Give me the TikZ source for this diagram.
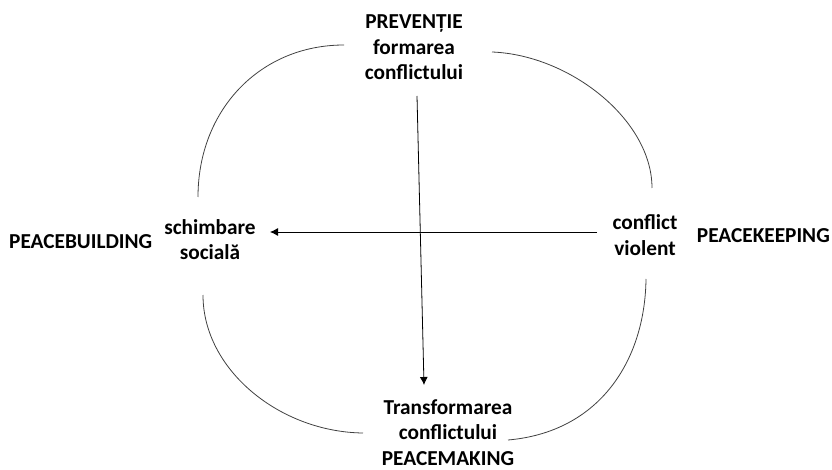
\documentclass[tikz,border=0pt]{standalone}
\usepackage{fontspec}
\setmainfont{Carlito}
\usetikzlibrary{arrows.meta}
\begin{document}
\begin{tikzpicture}[x=1pt,y=-1pt,
  lbl/.style={font=\bfseries\fontsize{21.3}{25.5}\selectfont, inner sep=0pt, align=center, anchor=base},
  arc/.style={draw=black!75, line width=0.8pt},
  arr/.style={draw=black, line width=0.8pt, -{Latex[length=8pt,width=8pt]}}]
\useasboundingbox (0,0) rectangle (832,470);
% labels (base anchor = baseline of last line)
\node[lbl] (prev) at (414,80) {PREVENȚIE\\formarea\\conflictului};
\node[lbl] (soc) at (210,260) {schimbare\\socială};
\node[lbl,anchor=base west] (pb) at (9,248) {PEACEBUILDING};
\node[lbl] (viol) at (645,255) {conflict\\violent};
\node[lbl,anchor=base east] (pk) at (830,243) {PEACEKEEPING};
\node[lbl] (trans) at (448,465) {Transformarea\\conflictului\\PEACEMAKING};
% arc end points
\coordinate (tl1) at (344,45);
\coordinate (tl2) at (198,197);
\coordinate (tr1) at (492,52);
\coordinate (tr2) at (652,188);
\coordinate (bl1) at (203,295);
\coordinate (bl2) at (363,433);
\coordinate (br1) at (646,279);
\coordinate (br2) at (508,440);
% arcs
\draw[arc] (tl1) .. controls (260,45) and (198,110) .. (tl2);
\draw[arc] (tr1) .. controls (570,55) and (652,120) .. (tr2);
\draw[arc] (bl1) .. controls (203,370) and (280,432) .. (bl2);
\draw[arc] (br1) .. controls (645,360) and (600,432) .. (br2);
% arrows
\coordinate (va) at (417,96);
\coordinate (vb) at (424,385);
\coordinate (ha) at (597,232);
\coordinate (hb) at (270,232);
\draw[arr] (va) -- (vb);
\draw[arr] (ha) -- (hb);
\end{tikzpicture}
\end{document}
